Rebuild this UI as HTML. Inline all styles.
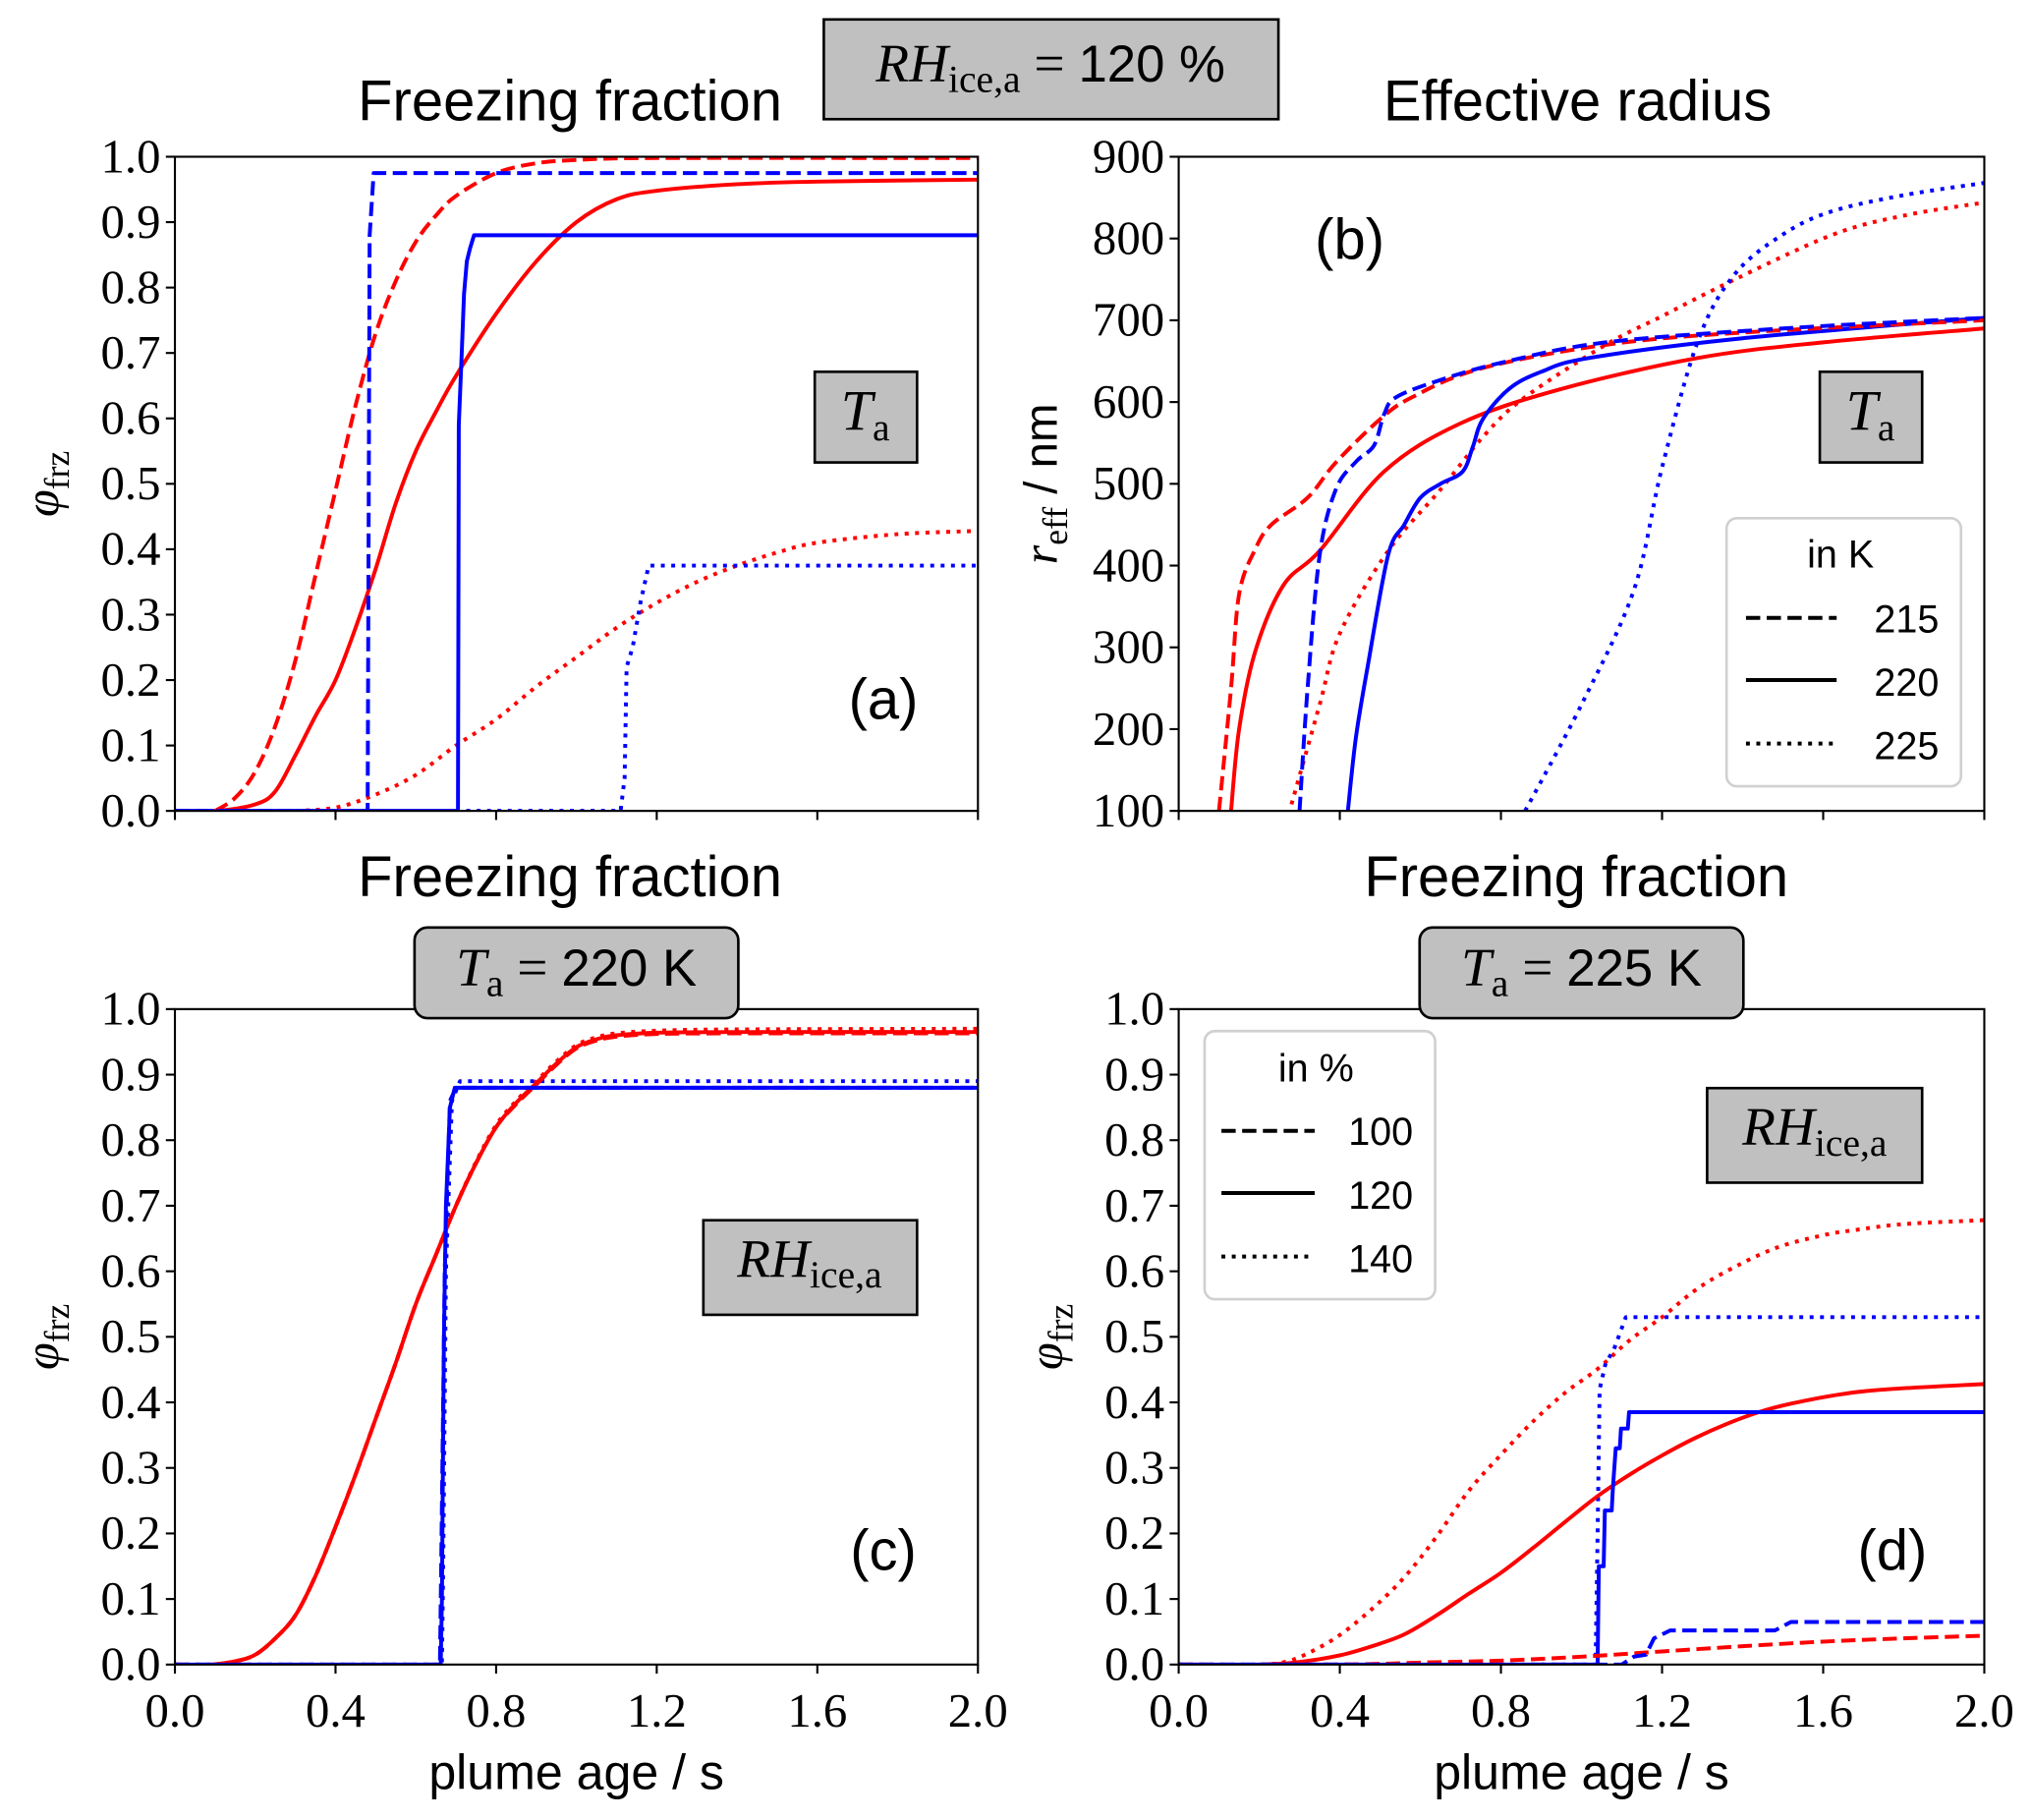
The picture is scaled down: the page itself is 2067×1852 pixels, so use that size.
<!DOCTYPE html>
<html><head><meta charset="utf-8"><style>
html,body{margin:0;padding:0;background:#fff;}
svg{display:block;}
.tk{font-family:"Liberation Serif","DejaVu Serif",serif;font-size:37px;fill:#000;}
.sn{font-family:"Liberation Sans","DejaVu Sans",sans-serif;fill:#000;}
.mi{font-family:"Liberation Serif","DejaVu Serif",serif;font-style:italic;fill:#000;}
.rm{font-family:"Liberation Serif","DejaVu Serif",serif;fill:#000;}
</style></head><body>
<svg id="fig" width="2067" height="1852" viewBox="0 0 1568 1405" xmlns="http://www.w3.org/2000/svg">
<rect x="0" y="0" width="1568" height="1405" fill="#fff"/>
<g id="static">
  <rect x="636" y="15" width="351" height="77" fill="#c0c0c0" stroke="#000" stroke-width="2"/>
  <text x="811" y="63" text-anchor="middle"><tspan class="mi" font-size="42">RH</tspan><tspan class="rm" font-size="30" dy="8">ice,a</tspan><tspan class="rm" font-size="42" dy="-8"> = </tspan><tspan class="sn" font-size="40">120 %</tspan></text>
  <text class="sn" x="440" y="93" font-size="44" text-anchor="middle">Freezing fraction</text>
  <text class="sn" x="1218" y="93" font-size="44" text-anchor="middle">Effective radius</text>
  <text class="sn" x="440" y="692" font-size="44" text-anchor="middle">Freezing fraction</text>
  <text class="sn" x="1217" y="692" font-size="44" text-anchor="middle">Freezing fraction</text>
</g>
<g id="plots"></g>
<g id="overlay">
  <rect x="629" y="287" width="79" height="70" fill="#c0c0c0" stroke="#000" stroke-width="2"/>
  <text x="668" y="332" text-anchor="middle"><tspan class="mi" font-size="44">T</tspan><tspan class="rm" font-size="30" dy="8">a</tspan></text>
  <rect x="1405" y="287" width="79" height="70" fill="#c0c0c0" stroke="#000" stroke-width="2"/>
  <text x="1444" y="332" text-anchor="middle"><tspan class="mi" font-size="44">T</tspan><tspan class="rm" font-size="30" dy="8">a</tspan></text>
  <text class="sn" x="682" y="555" font-size="44" text-anchor="middle">(a)</text>
  <text class="sn" x="1042" y="200" font-size="44" text-anchor="middle">(b)</text>
  <text class="sn" x="682" y="1212" font-size="44" text-anchor="middle">(c)</text>
  <text class="sn" x="1461" y="1212" font-size="44" text-anchor="middle">(d)</text>
  <rect x="320" y="716" width="250" height="70" rx="10" fill="#c0c0c0" stroke="#000" stroke-width="2"/>
  <text x="445" y="761" text-anchor="middle"><tspan class="mi" font-size="42">T</tspan><tspan class="rm" font-size="30" dy="8">a</tspan><tspan class="rm" font-size="42" dy="-8"> = </tspan><tspan class="sn" font-size="40">220 K</tspan></text>
  <rect x="1096" y="716" width="250" height="70" rx="10" fill="#c0c0c0" stroke="#000" stroke-width="2"/>
  <text x="1221" y="761" text-anchor="middle"><tspan class="mi" font-size="42">T</tspan><tspan class="rm" font-size="30" dy="8">a</tspan><tspan class="rm" font-size="42" dy="-8"> = </tspan><tspan class="sn" font-size="40">225 K</tspan></text>
  <rect x="543" y="942" width="165" height="73" fill="#c0c0c0" stroke="#000" stroke-width="2"/>
  <text x="625" y="986" text-anchor="middle"><tspan class="mi" font-size="42">RH</tspan><tspan class="rm" font-size="30" dy="8">ice,a</tspan></text>
  <rect x="1318" y="840" width="166" height="73" fill="#c0c0c0" stroke="#000" stroke-width="2"/>
  <text x="1401" y="884" text-anchor="middle"><tspan class="mi" font-size="42">RH</tspan><tspan class="rm" font-size="30" dy="8">ice,a</tspan></text>
  <g>
    <rect x="1333" y="400" width="181" height="207" rx="8" fill="#fff" fill-opacity="0.85" stroke="#d0d0d0" stroke-width="2"/>
    <text class="sn" x="1421" y="438" font-size="30" text-anchor="middle">in K</text>
    <line x1="1348" y1="477" x2="1418" y2="477" stroke="#000" stroke-width="3" stroke-dasharray="11,5"/>
    <text class="sn" x="1497" y="488" font-size="30" text-anchor="end">215</text>
    <line x1="1348" y1="525" x2="1418" y2="525" stroke="#000" stroke-width="3"/>
    <text class="sn" x="1497" y="537" font-size="30" text-anchor="end">220</text>
    <line x1="1348" y1="574" x2="1418" y2="574" stroke="#000" stroke-width="3" stroke-dasharray="3,5"/>
    <text class="sn" x="1497" y="586" font-size="30" text-anchor="end">225</text>
  </g>
  <g>
    <rect x="930" y="796" width="178" height="207" rx="8" fill="#fff" fill-opacity="0.85" stroke="#d0d0d0" stroke-width="2"/>
    <text class="sn" x="1016" y="835" font-size="30" text-anchor="middle">in %</text>
    <line x1="943" y1="873" x2="1015" y2="873" stroke="#000" stroke-width="3" stroke-dasharray="11,5"/>
    <text class="sn" x="1091" y="884" font-size="30" text-anchor="end">100</text>
    <line x1="943" y1="921" x2="1015" y2="921" stroke="#000" stroke-width="3"/>
    <text class="sn" x="1091" y="933" font-size="30" text-anchor="end">120</text>
    <line x1="943" y1="970" x2="1015" y2="970" stroke="#000" stroke-width="3" stroke-dasharray="3,5"/>
    <text class="sn" x="1091" y="982" font-size="30" text-anchor="end">140</text>
  </g>
</g>
</svg>
<script>
// ---- data ----
const xTicks = [0, 0.4, 0.8, 1.2, 1.6, 2.0];
const xTickLabels = ["0.0","0.4","0.8","1.2","1.6","2.0"];
const phiTicks = [0,0.1,0.2,0.3,0.4,0.5,0.6,0.7,0.8,0.9,1.0];
const phiTickLabels = ["0.0","0.1","0.2","0.3","0.4","0.5","0.6","0.7","0.8","0.9","1.0"];
const rTicks = [100,200,300,400,500,600,700,800,900];
const rTickLabels = ["100","200","300","400","500","600","700","800","900"];

// panel a (phi vs t), T = 215/220/225 K
const aRed215 = [[0.1,0],[0.15,0.02],[0.2,0.06],[0.25,0.13],[0.3,0.23],[0.35,0.36],[0.4,0.49],[0.45,0.62],[0.5,0.73],[0.55,0.81],[0.6,0.87],[0.65,0.91],[0.7,0.94],[0.8,0.975],[0.9,0.99],[1.0,0.995],[1.2,0.998],[2,0.998]];
const aRed220 = [[0,0],[0.1,0],[0.2,0.01],[0.25,0.03],[0.3,0.085],[0.35,0.145],[0.4,0.2],[0.45,0.28],[0.5,0.37],[0.55,0.47],[0.6,0.55],[0.65,0.61],[0.7,0.665],[0.8,0.76],[0.9,0.84],[1.0,0.9],[1.1,0.935],[1.2,0.948],[1.4,0.958],[1.6,0.962],[2,0.965]];
const aRed225 = [[0.3,0],[0.4,0.005],[0.5,0.025],[0.6,0.055],[0.7,0.1],[0.8,0.14],[0.9,0.19],[1.0,0.235],[1.1,0.28],[1.2,0.318],[1.3,0.35],[1.4,0.375],[1.5,0.395],[1.6,0.41],[1.8,0.423],[2,0.428]];
const aBlue215 = [[0,0],[0.48,0],[0.485,0.88],[0.495,0.975],[2,0.975]];
const aBlue220 = [[0,0],[0.705,0],[0.707,0.59],[0.715,0.71],[0.72,0.79],[0.727,0.84],[0.735,0.86],[0.745,0.88],[2,0.88]];
const aBlue225 = [[0.7,0],[1.11,0],[1.12,0.05],[1.125,0.22],[1.14,0.25],[1.16,0.32],[1.18,0.375],[2,0.375]];

// panel b (r_eff in nm)
const bRed215 = [[0.1,100],[0.13,250],[0.15,365],[0.19,420],[0.23,450],[0.32,483],[0.39,526],[0.5,579],[0.58,606],[0.75,641],[1.06,670],[1.4,685],[2,700]];
const bRed220 = [[0.13,100],[0.15,200],[0.19,295],[0.26,376],[0.35,418],[0.51,515],[0.7,574],[0.95,616],[1.29,654],[1.6,673],[2,690]];
const bRed225 = [[0.28,108],[0.35,230],[0.4,317],[0.52,418],[0.65,493],[0.76,560],[0.86,606],[1.06,670],[1.2,705],[1.36,745],[1.62,804],[1.8,828],[2,844]];
const bBlue215 = [[0.3,100],[0.32,250],[0.35,413],[0.39,493],[0.44,527],[0.485,547],[0.51,585],[0.54,606],[0.65,627],[0.8,648],[1.06,673],[1.5,690],[2,703]];
const bBlue220 = [[0.42,100],[0.44,190],[0.47,279],[0.52,413],[0.56,450],[0.6,483],[0.65,500],[0.705,515],[0.73,545],[0.755,579],[0.82,616],[0.9,637],[1.02,654],[1.4,678],[2,703]];
const bBlue225 = [[0.86,100],[1.0,230],[1.13,370],[1.2,520],[1.29,676],[1.38,756],[1.5,805],[1.62,833],[1.8,853],[2,868]];

// panel c (T=220 K), RH = 100/120/140 %
const cRed100 = [[0,0],[0.09,0],[0.15,0.005],[0.2,0.015],[0.25,0.04],[0.3,0.075],[0.35,0.135],[0.4,0.21],[0.45,0.29],[0.5,0.375],[0.55,0.46],[0.6,0.55],[0.65,0.625],[0.7,0.7],[0.75,0.765],[0.8,0.82],[0.85,0.855],[0.9,0.885],[0.95,0.915],[1.0,0.94],[1.05,0.952],[1.1,0.958],[1.2,0.962],[1.4,0.963],[2,0.963]];
const cRed120 = [[0,0],[0.09,0],[0.15,0.005],[0.2,0.015],[0.25,0.04],[0.3,0.075],[0.35,0.135],[0.4,0.21],[0.45,0.29],[0.5,0.375],[0.55,0.46],[0.6,0.55],[0.65,0.625],[0.7,0.7],[0.75,0.765],[0.8,0.82],[0.85,0.857],[0.9,0.887],[0.95,0.917],[1.0,0.942],[1.05,0.954],[1.1,0.96],[1.2,0.964],[1.4,0.965],[2,0.965]];
const cRed140 = [[0,0],[0.09,0],[0.15,0.005],[0.2,0.015],[0.25,0.04],[0.3,0.075],[0.35,0.135],[0.4,0.21],[0.45,0.29],[0.5,0.375],[0.55,0.46],[0.6,0.55],[0.65,0.625],[0.7,0.7],[0.75,0.767],[0.8,0.823],[0.85,0.86],[0.9,0.89],[0.95,0.92],[1.0,0.945],[1.05,0.957],[1.1,0.963],[1.2,0.967],[1.4,0.969],[2,0.97]];
const cBlue100 = [[0,0],[0.66,0],[0.663,0.14],[0.672,0.6],[0.685,0.86],[0.7,0.88],[2,0.88]];
const cBlue120 = [[0,0],[0.662,0],[0.665,0.1],[0.67,0.5],[0.675,0.7],[0.685,0.85],[0.697,0.88],[2,0.88]];
const cBlue140 = [[0,0],[0.665,0],[0.668,0.14],[0.675,0.6],[0.69,0.86],[0.71,0.89],[2,0.89]];

// panel d (T=225 K)
const dRed100 = [[0,0],[0.4,0],[0.6,0.003],[0.8,0.006],[1.0,0.012],[1.2,0.02],[1.4,0.028],[1.6,0.035],[1.8,0.04],[2,0.044]];
const dRed120 = [[0,0],[0.2,0],[0.3,0.004],[0.4,0.014],[0.48,0.028],[0.56,0.046],[0.64,0.075],[0.72,0.108],[0.8,0.14],[0.88,0.178],[0.96,0.218],[1.04,0.257],[1.12,0.29],[1.2,0.319],[1.28,0.345],[1.36,0.367],[1.44,0.385],[1.52,0.398],[1.64,0.412],[1.76,0.42],[2,0.428]];
const dRed140 = [[0,0],[0.2,0],[0.27,0.005],[0.33,0.02],[0.4,0.045],[0.48,0.085],[0.56,0.133],[0.64,0.195],[0.72,0.265],[0.8,0.32],[0.88,0.371],[0.96,0.415],[1.04,0.451],[1.12,0.495],[1.2,0.53],[1.28,0.57],[1.36,0.6],[1.48,0.635],[1.6,0.655],[1.68,0.663],[1.8,0.672],[2,0.678]];
const dBlue100 = [[0,0],[1.1,0],[1.13,0.012],[1.16,0.015],[1.18,0.04],[1.22,0.052],[1.48,0.052],[1.52,0.065],[2,0.065]];
const dBlue120 = [[0,0],[1.04,0],[1.043,0.15],[1.055,0.15],[1.058,0.235],[1.075,0.235],[1.078,0.27],[1.085,0.33],[1.095,0.33],[1.098,0.36],[1.115,0.36],[1.118,0.385],[2,0.385]];
const dBlue140 = [[0,0],[1.035,0],[1.04,0.2],[1.045,0.42],[1.06,0.46],[1.08,0.48],[1.11,0.53],[2,0.53]];

// ---- drawing ----
const NS = "http://www.w3.org/2000/svg";
const plots = document.getElementById("plots");
const DASH = {dashed:"11,5", solid:null, dotted:"3,5"};
function mk(tag, attrs, parent){
  const e = document.createElementNS(NS, tag);
  for (const k in attrs) e.setAttribute(k, attrs[k]);
  (parent||plots).appendChild(e);
  return e;
}
function smoothPath(pts){
  let d = "M" + pts[0][0].toFixed(2) + "," + pts[0][1].toFixed(2);
  for (let i = 0; i < pts.length - 1; i++){
    const p0 = pts[Math.max(0, i-1)], p1 = pts[i], p2 = pts[i+1], p3 = pts[Math.min(pts.length-1, i+2)];
    const c1x = p1[0] + (p2[0]-p0[0])/6, c1y = p1[1] + (p2[1]-p0[1])/6;
    const c2x = p2[0] - (p3[0]-p1[0])/6, c2y = p2[1] - (p3[1]-p1[1])/6;
    d += "C" + c1x.toFixed(2) + "," + c1y.toFixed(2) + " " + c2x.toFixed(2) + "," + c2y.toFixed(2) + " " + p2[0].toFixed(2) + "," + p2[1].toFixed(2);
  }
  return d;
}
function panel(id, box, ymin, ymax, yT, yL, xLabels, series, yTitle){
  const g = mk("g", {});
  
  
  const sx = v => box.x0 + (v - 0) / 2 * (box.x1 - box.x0);
  const sy = v => box.y1 - (v - ymin) / (ymax - ymin) * (box.y1 - box.y0);
  const cid = "clip-" + id;
  const cp = mk("clipPath", {id: cid}, g);
  mk("rect", {x: box.x0, y: box.y0, width: box.x1 - box.x0, height: box.y1 - box.y0}, cp);
  const sg = mk("g", {"clip-path": "url(#" + cid + ")"}, g);
  series.forEach(s => {
    const pts = s.data.map(p => [sx(p[0]), sy(p[1])]);
    const d = s.smooth ? smoothPath(pts) : pts.map((p, i) => (i ? "L" : "M") + p[0].toFixed(2) + "," + p[1].toFixed(2)).join("");
    const a = {d: d, fill: "none", stroke: s.color, "stroke-width": 3, "stroke-linejoin": "round"};
    if (DASH[s.style]) a["stroke-dasharray"] = DASH[s.style];
    const p = mk("path", a, sg);
    
    
  });
  const frame = mk("rect", {x: box.x0, y: box.y0, width: box.x1 - box.x0, height: box.y1 - box.y0, fill: "none", stroke: "#000", "stroke-width": 1.6}, g);
  
  
  xTicks.forEach((v, i) => {
    mk("line", {x1: sx(v), x2: sx(v), y1: box.y1, y2: box.y1 + 7, stroke: "#000", "stroke-width": 1.6}, g);
    if (xLabels) {
      const t = mk("text", {x: sx(v), y: box.y1 + 48, "text-anchor": "middle", class: "tk"}, g);
      t.textContent = xTickLabels[i];
      
      
    }
  });
  yT.forEach((v, i) => {
    mk("line", {x1: box.x0 - 7, x2: box.x0, y1: sy(v), y2: sy(v), stroke: "#000", "stroke-width": 1.6}, g);
    const t = mk("text", {x: box.x0 - 11, y: sy(v) + 12, "text-anchor": "end", class: "tk"}, g);
    t.textContent = yL[i];
    
    
  });
  if (xLabels) {
    const t = mk("text", {x: (box.x0 + box.x1) / 2, y: box.y1 + 96, "text-anchor": "middle", class: "sn", "font-size": 38}, g);
    t.textContent = "plume age / s";
    
    
  }
  const yc = (box.y0 + box.y1) / 2;
  const tx = yTitle === "r" ? box.x0 - 94 : box.x0 - 90;
  const yt = mk("text", {x: tx, y: yc, "text-anchor": "middle", transform: "rotate(-90 " + tx + " " + yc + ")"}, g);
  
  
  if (yTitle === "r") {
    yt.innerHTML = '<tspan class="mi" font-size="38">r</tspan><tspan class="rm" font-size="27" dy="8">eff</tspan><tspan class="sn" font-size="36" dy="-8"> / nm</tspan>';
  } else {
    yt.innerHTML = '<tspan class="mi" font-size="38">φ</tspan><tspan class="rm" font-size="27" dy="8">frz</tspan>';
  }
}
const RED = "#ff0000", BLUE = "#0000ff";
panel("a", {x0:135, x1:755, y0:121, y1:626}, 0, 1, phiTicks, phiTickLabels, false, [
  {data:aRed225, color:RED, style:"dotted", name:"a-red-225", smooth:true},
  {data:aBlue225, color:BLUE, style:"dotted", name:"a-blue-225"},
  {data:aRed220, color:RED, style:"solid", name:"a-red-220", smooth:true},
  {data:aBlue220, color:BLUE, style:"solid", name:"a-blue-220"},
  {data:aRed215, color:RED, style:"dashed", name:"a-red-215", smooth:true},
  {data:aBlue215, color:BLUE, style:"dashed", name:"a-blue-215"}
], "phi");
panel("b", {x0:910, x1:1532, y0:121, y1:626}, 100, 900, rTicks, rTickLabels, false, [
  {data:bRed225, color:RED, style:"dotted", name:"b-red-225", smooth:true},
  {data:bBlue225, color:BLUE, style:"dotted", name:"b-blue-225", smooth:true},
  {data:bRed220, color:RED, style:"solid", name:"b-red-220", smooth:true},
  {data:bBlue220, color:BLUE, style:"solid", name:"b-blue-220", smooth:true},
  {data:bRed215, color:RED, style:"dashed", name:"b-red-215", smooth:true},
  {data:bBlue215, color:BLUE, style:"dashed", name:"b-blue-215", smooth:true}
], "r");
panel("c", {x0:135, x1:755, y0:779, y1:1285}, 0, 1, phiTicks, phiTickLabels, true, [
  {data:cRed140, color:RED, style:"dotted", name:"c-red-140", smooth:true},
  {data:cBlue140, color:BLUE, style:"dotted", name:"c-blue-140"},
  {data:cRed100, color:RED, style:"dashed", name:"c-red-100", smooth:true},
  {data:cBlue100, color:BLUE, style:"dashed", name:"c-blue-100"},
  {data:cRed120, color:RED, style:"solid", name:"c-red-120", smooth:true},
  {data:cBlue120, color:BLUE, style:"solid", name:"c-blue-120"}
], "phi");
panel("d", {x0:910, x1:1532, y0:779, y1:1285}, 0, 1, phiTicks, phiTickLabels, true, [
  {data:dRed140, color:RED, style:"dotted", name:"d-red-140", smooth:true},
  {data:dBlue140, color:BLUE, style:"dotted", name:"d-blue-140"},
  {data:dRed120, color:RED, style:"solid", name:"d-red-120", smooth:true},
  {data:dBlue120, color:BLUE, style:"solid", name:"d-blue-120"},
  {data:dRed100, color:RED, style:"dashed", name:"d-red-100", smooth:true},
  {data:dBlue100, color:BLUE, style:"dashed", name:"d-blue-100"}
], "phi");
</script>
</body></html>
